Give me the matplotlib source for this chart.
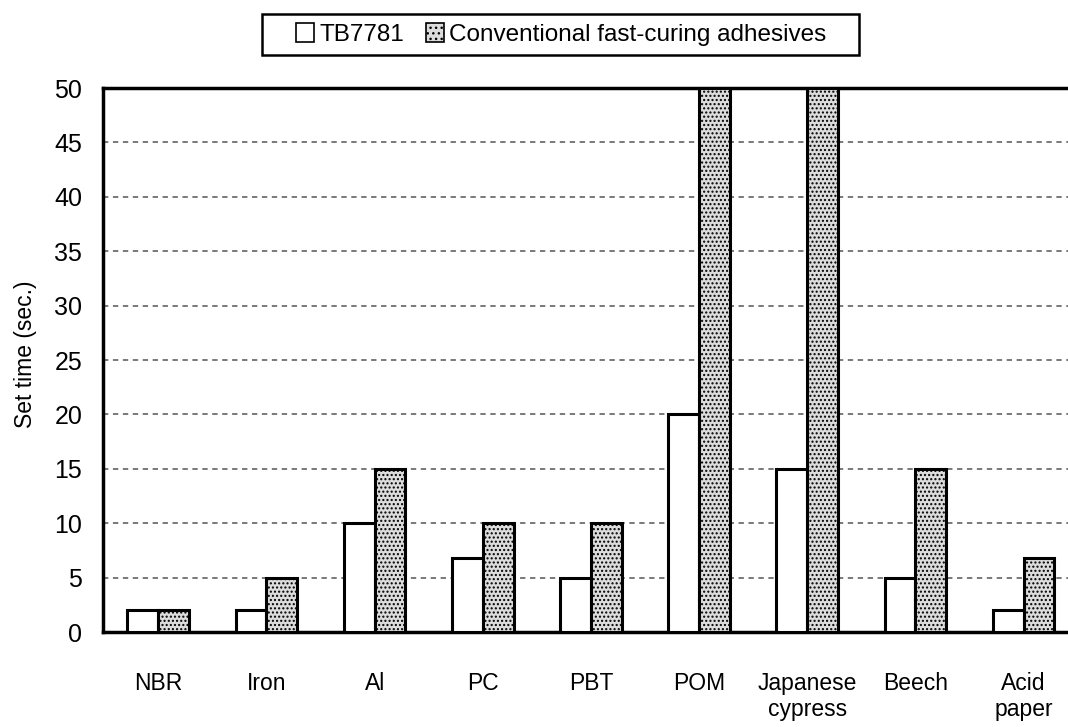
import matplotlib.pyplot as plt
import numpy as np
from matplotlib.patches import Patch, Rectangle

plt.rcParams["font.family"] = ["Liberation Sans", "DejaVu Sans"]
plt.rcParams["hatch.linewidth"] = 1.0

categories = ["NBR", "Iron", "Al", "PC", "PBT", "POM", "Japanese\ncypress", "Beech", "Acid\npaper"]
tb7781 = [2, 2, 10, 6.8, 5, 20, 15, 5, 2]
conventional = [2, 5, 15, 10, 10, 50, 50, 15, 6.8]
yticks = list(range(0, 51, 5))

fig = plt.figure(figsize=(10.68, 7.27), dpi=100)
# right edge runs off the picture, as in the original
ax = fig.add_axes([103 / 1068, 95 / 727, 1 - 103 / 1068 + 0.005, 544 / 727])

x = np.arange(len(categories))
w = 0.285
gray = "#dcdcdc"

# dashed grid, one line per tick
for yv in yticks[1:]:
    ax.plot([-0.511, 8.46], [yv, yv], color="#555555", linestyle=(0, (3.5, 3)),
            linewidth=1.1, zorder=1)

ax.bar(x - w / 2, tb7781, w, color="white", edgecolor="black", linewidth=2.2, zorder=3)
ax.bar(x + w / 2, conventional, w, color=gray, edgecolor="black", linewidth=2.2,
       hatch="....", zorder=3)

ax.set_xlim(-0.511, 8.46)
ax.set_ylim(0, 50)
ax.set_yticks(yticks)
ax.tick_params(axis="both", length=0)
ax.tick_params(axis="y", labelsize=18, pad=15)
ax.tick_params(axis="x", pad=29)
ax.set_xticks(x)
ax.set_xticklabels(categories, fontsize=16.5, linespacing=1.15, va="top")
for s in ax.spines.values():
    s.set_linewidth(2.5)
ax.spines["right"].set_visible(False)
ax.set_ylabel("Set time (sec.)", fontsize=16.5)
ax.yaxis.set_label_coords(-0.068, 0.51)

# legend box drawn separately to get the wide side padding
fig.patches.append(Rectangle((262 / 1068, 1 - 55 / 727), 597 / 1068, 41 / 727,
                             transform=fig.transFigure, facecolor="white",
                             edgecolor="black", linewidth=1.8))
handles = [Patch(facecolor="white", edgecolor="black", linewidth=1.2),
           Patch(facecolor=gray, edgecolor="black", linewidth=1.2, hatch="...")]
fig.legend(handles, ["TB7781", "Conventional fast-curing adhesives"],
           loc="center", bbox_to_anchor=(561 / 1068, 1 - 34.5 / 727), ncol=2,
           fontsize=17.5, frameon=False,
           handlelength=0.75, handleheight=0.8, handletextpad=0.2, columnspacing=0.9)

fig.savefig("out.png", dpi=100)
